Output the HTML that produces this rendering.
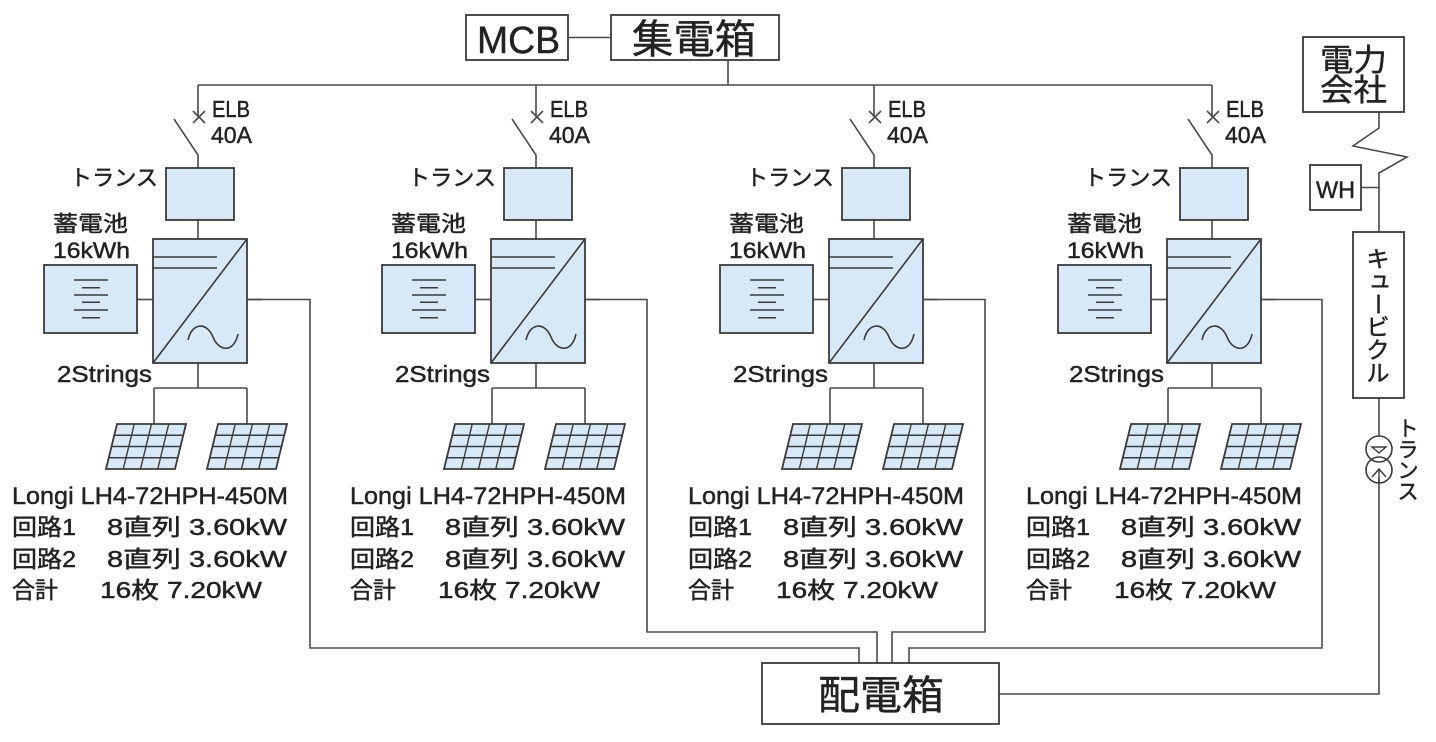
<!DOCTYPE html>
<html><head><meta charset="utf-8"><style>
html,body{margin:0;padding:0;background:#fff;}
svg{display:block;}
text{font-family:"Liberation Sans","Noto Sans CJK JP",sans-serif;fill:#222;stroke:#222;stroke-width:0.45px;}
text.big{stroke-width:0.4px;}
</style></head><body>
<svg width="1436" height="742" viewBox="0 0 1436 742" xmlns="http://www.w3.org/2000/svg">
<defs>
<g id="u">
  <g fill="none" stroke="#4a4a4a" stroke-width="1.6">
    <path d="M198,85V117"/>
    <path d="M193,111L205,123M193,123L205,111"/>
    <path d="M174,119L198,155V168"/>
    <path d="M198,220V239"/>
    <path d="M137,299.5H153"/>
    <path d="M247,299.5H262"/>
    <path d="M198,363V388M154,388H247M154,388V424M247,388V424"/>
  </g>
  <rect x="166" y="168" width="68" height="52" fill="#d7e9f7" stroke="#3a3a3a" stroke-width="1.8"/>
  <rect x="153" y="239" width="94" height="124" fill="#d7e9f7" stroke="#3a3a3a" stroke-width="1.8"/>
  <path d="M153,257H217M153,268H217M153,363L247,239" fill="none" stroke="#3a3a3a" stroke-width="1.6"/>
  <path d="M188,340C192,322 207,322 213,337C219,352 234,353 238,334" fill="none" stroke="#3a3a3a" stroke-width="1.6"/>
  <rect x="44" y="265" width="93" height="68" fill="#d7e9f7" stroke="#3a3a3a" stroke-width="1.8"/>
  <path d="M74,280H108M82,287.7H100M74,295H108M82,302.3H100M74,310H108M82,317.7H100" fill="none" stroke="#3a3a3a" stroke-width="1.5"/>
  <g id="pan">
    <path d="M117,424H186L175,469H106Z" fill="#d7e9f7" stroke="#3a3a3a" stroke-width="1.8"/>
    <path d="M134.25,424L123.25,469M151.5,424L140.5,469M168.75,424L157.75,469M114.25,435.25H183.25M111.5,446.5H180.5M108.75,457.75H177.75" fill="none" stroke="#3a3a3a" stroke-width="1.4"/>
  </g>
  <use href="#pan" transform="translate(101,0)"/>
</g>
</defs>

<!-- top -->
<rect x="466" y="15" width="102" height="45" fill="#fff" stroke="#3a3a3a" stroke-width="1.8"/>
<rect x="611" y="15" width="168" height="45" fill="#fff" stroke="#3a3a3a" stroke-width="1.8"/>
<path d="M568,37.5H611M728,60V85M198,85H1212" fill="none" stroke="#4a4a4a" stroke-width="1.6"/>
<text class="big" x="477" y="53" font-size="38" textLength="83" lengthAdjust="spacingAndGlyphs">MCB</text>
<text class="big" x="632" y="53" font-size="40" textLength="124" lengthAdjust="spacingAndGlyphs">集電箱</text>

<!-- units -->
<use href="#u"/>
<use href="#u" transform="translate(338,0)"/>
<use href="#u" transform="translate(676,0)"/>
<use href="#u" transform="translate(1014,0)"/>

<!-- routing to 配電箱 -->
<g fill="none" stroke="#4a4a4a" stroke-width="1.6">
  <path d="M247,299.5H310V648H859V663"/>
  <path d="M585,299.5H647V632H877V663"/>
  <path d="M923,299.5H985V632H892V663"/>
  <path d="M1261,299.5H1322V648H909V663"/>
  <path d="M999,694H1379V478"/>
  <path d="M1379,112V128L1353,146L1407,157L1379,173V232"/>
  <path d="M1361,187.5H1379"/>
  <path d="M1379,398V436"/>
</g>
<rect x="762" y="663" width="237" height="61" fill="#fff" stroke="#3a3a3a" stroke-width="1.8"/>
<text class="big" x="818" y="709" font-size="40" textLength="126" lengthAdjust="spacingAndGlyphs">配電箱</text>

<!-- right side -->
<rect x="1303" y="37" width="101" height="75" fill="#fff" stroke="#3a3a3a" stroke-width="1.8"/>
<text class="big" x="1320" y="71" font-size="31" textLength="67" lengthAdjust="spacingAndGlyphs">電力</text>
<text class="big" x="1320" y="101" font-size="31" textLength="67" lengthAdjust="spacingAndGlyphs">会社</text>
<rect x="1310" y="165" width="51" height="45" fill="#fff" stroke="#3a3a3a" stroke-width="1.8"/>
<text x="1316" y="198" font-size="24" textLength="39" lengthAdjust="spacingAndGlyphs">WH</text>
<rect x="1353" y="232" width="51" height="166" fill="#fff" stroke="#3a3a3a" stroke-width="1.8"/>
<g font-size="23" text-anchor="middle">
  <text x="1378" y="267">キ</text>
  <text x="1380" y="287">ュ</text>
  <text x="1378" y="312" transform="rotate(90 1378 304)">ー</text>
  <text x="1378" y="335">ビ</text>
  <text x="1378" y="358">ク</text>
  <text x="1378" y="381">ル</text>
</g>
<circle cx="1379" cy="449" r="13" fill="#fff" stroke="#3a3a3a" stroke-width="1.6"/>
<circle cx="1379" cy="470" r="13" fill="none" stroke="#3a3a3a" stroke-width="1.6"/>
<path d="M1372,447H1386L1379,453Z" fill="none" stroke="#3a3a3a" stroke-width="1.4"/>
<path d="M1372,477L1379,469L1386,477M1379,469V483" fill="none" stroke="#3a3a3a" stroke-width="1.4"/>
<g font-size="21" text-anchor="middle">
  <text x="1408" y="436">ト</text>
  <text x="1408" y="457">ラ</text>
  <text x="1408" y="478">ン</text>
  <text x="1408" y="499">ス</text>
</g>

<!-- unit texts -->
<g>
  <text x="212" y="117" font-size="23" textLength="38" lengthAdjust="spacingAndGlyphs">ELB</text>
  <text x="211" y="143" font-size="23" textLength="41" lengthAdjust="spacingAndGlyphs">40A</text>
  <text x="70" y="185.5" font-size="22" textLength="88" lengthAdjust="spacingAndGlyphs">トランス</text>
  <text x="53" y="231.5" font-size="22" textLength="75" lengthAdjust="spacingAndGlyphs">蓄電池</text>
  <text x="53" y="258" font-size="22" textLength="77" lengthAdjust="spacingAndGlyphs">16kWh</text>
  <text x="57" y="382" font-size="23" textLength="95" lengthAdjust="spacingAndGlyphs">2Strings</text>
  <text x="12" y="504" font-size="24" textLength="276" lengthAdjust="spacingAndGlyphs">Longi LH4-72HPH-450M</text>
  <text x="12" y="535" font-size="23" textLength="64" lengthAdjust="spacingAndGlyphs">回路1</text>
  <text x="107" y="535" font-size="23" textLength="180" lengthAdjust="spacingAndGlyphs">8直列 3.60kW</text>
  <text x="12" y="567" font-size="23" textLength="64" lengthAdjust="spacingAndGlyphs">回路2</text>
  <text x="107" y="567" font-size="23" textLength="180" lengthAdjust="spacingAndGlyphs">8直列 3.60kW</text>
  <text x="12" y="598" font-size="23" textLength="46" lengthAdjust="spacingAndGlyphs">合計</text>
  <text x="100" y="598" font-size="23" textLength="162" lengthAdjust="spacingAndGlyphs">16枚 7.20kW</text>
</g>
<g transform="translate(338,0)">
  <text x="212" y="117" font-size="23" textLength="38" lengthAdjust="spacingAndGlyphs">ELB</text>
  <text x="211" y="143" font-size="23" textLength="41" lengthAdjust="spacingAndGlyphs">40A</text>
  <text x="70" y="185.5" font-size="22" textLength="88" lengthAdjust="spacingAndGlyphs">トランス</text>
  <text x="53" y="231.5" font-size="22" textLength="75" lengthAdjust="spacingAndGlyphs">蓄電池</text>
  <text x="53" y="258" font-size="22" textLength="77" lengthAdjust="spacingAndGlyphs">16kWh</text>
  <text x="57" y="382" font-size="23" textLength="95" lengthAdjust="spacingAndGlyphs">2Strings</text>
  <text x="12" y="504" font-size="24" textLength="276" lengthAdjust="spacingAndGlyphs">Longi LH4-72HPH-450M</text>
  <text x="12" y="535" font-size="23" textLength="64" lengthAdjust="spacingAndGlyphs">回路1</text>
  <text x="107" y="535" font-size="23" textLength="180" lengthAdjust="spacingAndGlyphs">8直列 3.60kW</text>
  <text x="12" y="567" font-size="23" textLength="64" lengthAdjust="spacingAndGlyphs">回路2</text>
  <text x="107" y="567" font-size="23" textLength="180" lengthAdjust="spacingAndGlyphs">8直列 3.60kW</text>
  <text x="12" y="598" font-size="23" textLength="46" lengthAdjust="spacingAndGlyphs">合計</text>
  <text x="100" y="598" font-size="23" textLength="162" lengthAdjust="spacingAndGlyphs">16枚 7.20kW</text>
</g>
<g transform="translate(676,0)">
  <text x="212" y="117" font-size="23" textLength="38" lengthAdjust="spacingAndGlyphs">ELB</text>
  <text x="211" y="143" font-size="23" textLength="41" lengthAdjust="spacingAndGlyphs">40A</text>
  <text x="70" y="185.5" font-size="22" textLength="88" lengthAdjust="spacingAndGlyphs">トランス</text>
  <text x="53" y="231.5" font-size="22" textLength="75" lengthAdjust="spacingAndGlyphs">蓄電池</text>
  <text x="53" y="258" font-size="22" textLength="77" lengthAdjust="spacingAndGlyphs">16kWh</text>
  <text x="57" y="382" font-size="23" textLength="95" lengthAdjust="spacingAndGlyphs">2Strings</text>
  <text x="12" y="504" font-size="24" textLength="276" lengthAdjust="spacingAndGlyphs">Longi LH4-72HPH-450M</text>
  <text x="12" y="535" font-size="23" textLength="64" lengthAdjust="spacingAndGlyphs">回路1</text>
  <text x="107" y="535" font-size="23" textLength="180" lengthAdjust="spacingAndGlyphs">8直列 3.60kW</text>
  <text x="12" y="567" font-size="23" textLength="64" lengthAdjust="spacingAndGlyphs">回路2</text>
  <text x="107" y="567" font-size="23" textLength="180" lengthAdjust="spacingAndGlyphs">8直列 3.60kW</text>
  <text x="12" y="598" font-size="23" textLength="46" lengthAdjust="spacingAndGlyphs">合計</text>
  <text x="100" y="598" font-size="23" textLength="162" lengthAdjust="spacingAndGlyphs">16枚 7.20kW</text>
</g>
<g transform="translate(1014,0)">
  <text x="212" y="117" font-size="23" textLength="38" lengthAdjust="spacingAndGlyphs">ELB</text>
  <text x="211" y="143" font-size="23" textLength="41" lengthAdjust="spacingAndGlyphs">40A</text>
  <text x="70" y="185.5" font-size="22" textLength="88" lengthAdjust="spacingAndGlyphs">トランス</text>
  <text x="53" y="231.5" font-size="22" textLength="75" lengthAdjust="spacingAndGlyphs">蓄電池</text>
  <text x="53" y="258" font-size="22" textLength="77" lengthAdjust="spacingAndGlyphs">16kWh</text>
  <text x="55" y="382" font-size="23" textLength="95" lengthAdjust="spacingAndGlyphs">2Strings</text>
  <text x="12" y="504" font-size="24" textLength="276" lengthAdjust="spacingAndGlyphs">Longi LH4-72HPH-450M</text>
  <text x="12" y="535" font-size="23" textLength="64" lengthAdjust="spacingAndGlyphs">回路1</text>
  <text x="107" y="535" font-size="23" textLength="180" lengthAdjust="spacingAndGlyphs">8直列 3.60kW</text>
  <text x="12" y="567" font-size="23" textLength="64" lengthAdjust="spacingAndGlyphs">回路2</text>
  <text x="107" y="567" font-size="23" textLength="180" lengthAdjust="spacingAndGlyphs">8直列 3.60kW</text>
  <text x="12" y="598" font-size="23" textLength="46" lengthAdjust="spacingAndGlyphs">合計</text>
  <text x="100" y="598" font-size="23" textLength="162" lengthAdjust="spacingAndGlyphs">16枚 7.20kW</text>
</g>
</svg>
</body></html>
